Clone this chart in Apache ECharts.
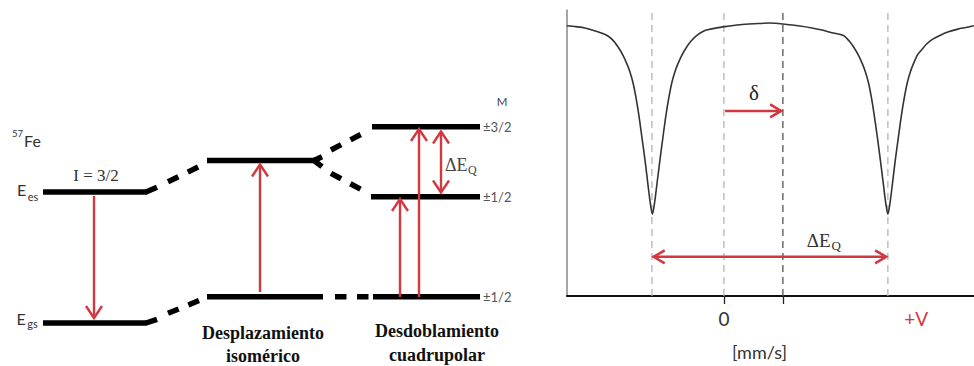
<!DOCTYPE html>
<html><head><meta charset="utf-8">
<script src="https://cdn.jsdelivr.net/npm/echarts@6/dist/echarts.min.js"></script>
<style>html,body{margin:0;padding:0;background:#fff}#c{width:974px;height:366px}</style>
</head><body><div id="c"></div>
<script>
// ===== Left panel: 57Fe nuclear energy levels (x = diagram position, E = relative energy, Egs = 0) =====
const levels = [ // [xStart, xEnd, E]
  [43, 147, 131], [43, 147, 0],
  [207, 315, 162.5], [207, 323, 26.3],
  [372, 480, 196.3], [371, 480, 126.3], [373, 480, 26.3]
];
const solidLinks = [ // [x0, E0, x1, E1]
  [146, 131, 157, 135.7], [146, 0, 157, 3.7],
  [314, 162.5, 322, 166.3], [314, 162.5, 322, 156.3]
];
const dashedLinks = [ // [x0, E0, x1, E1]
  [168, 141.3, 201, 157.3], [168, 9.7, 202, 23.7],
  [331, 173, 363, 189.7], [331, 149.7, 362, 133], [335, 26.3, 370, 26.3]
];
const transitions = [ // [x0, E0, x1, E1, headAtStart, headAtEnd]
  [94, 127, 94, 5, 0, 1], [260, 31, 260, 158.5, 0, 1],
  [400, 26, 400, 124, 0, 1], [419, 26, 419, 194, 0, 1],
  [441, 191.5, 441, 130.5, 1, 1]
];
const leftTexts = [ // [x, E, text, style]
  [17.5, 189.5, '57', 'sup'], [32.5, 182.5, 'Fe', 'sans'],
  [21.5, 134, 'E', 'sans'], [33, 127, 'es', 'sub'],
  [21, 5, 'E', 'sans'], [32.5, 0, 'gs', 'sub'],
  [96, 148, 'I = 3/2', 'serif'],
  [502, 222, 'M', 'tiny'],
  [483, 196.3, '±3/2', 'mlab'], [483, 126.3, '±1/2', 'mlab'], [483, 26.3, '±1/2', 'mlab'],
  [445, 158, 'ΔE', 'serifL'], [468, 153, 'Q', 'serifSub'],
  [263, -10, 'Desplazamiento', 'bold'], [263, -33, 'isomérico', 'bold'],
  [437, -8, 'Desdoblamiento', 'bold'], [437, -32, 'cuadrupolar', 'bold']
];

// ===== Right panel: Mössbauer spectrum (velocity in mm/s, transmission in %) =====
const velocity = [
  -1.331, -1.254, -1.178, -1.119, -1.051, -0.983,
  -0.932, -0.890, -0.856, -0.822, -0.797, -0.771, -0.746, -0.720, -0.695, -0.669, -0.644, -0.623,
  -0.606,
  -0.589, -0.568, -0.542, -0.517, -0.492, -0.466, -0.441, -0.415, -0.390, -0.356, -0.322, -0.280, -0.229,
  -0.161, -0.093, 0.008, 0.136, 0.263, 0.390, 0.534, 0.644, 0.746, 0.831, 0.915,
  1.013, 1.064, 1.106, 1.140, 1.174, 1.199, 1.225, 1.250, 1.275, 1.301, 1.326, 1.352, 1.373,
  1.390,
  1.407, 1.428, 1.453, 1.479, 1.504, 1.530, 1.555, 1.581, 1.606, 1.640, 1.674, 1.716, 1.767,
  1.831, 1.898, 1.983, 2.051, 2.119];
const transmission = [
  94.52, 94.18, 93.73, 92.98, 92.12, 90.92,
  89.04, 86.64, 84.25, 81.16, 78.42, 74.66, 69.52, 63.01, 55.48, 47.60, 39.04, 32.19,
  28.60,
  32.19, 39.04, 47.60, 55.48, 63.01, 69.52, 74.66, 78.42, 81.16, 84.25, 86.64, 89.04, 91.10,
  92.81, 93.49, 94.18, 94.86, 95.21, 95.45, 94.93, 94.42, 93.73, 92.98, 92.05,
  91.10, 89.04, 86.64, 84.25, 81.16, 78.42, 74.66, 69.52, 63.01, 55.48, 47.60, 39.04, 32.19,
  28.60,
  32.19, 39.04, 47.60, 55.48, 63.01, 69.52, 74.66, 78.42, 81.16, 84.25, 85.96, 88.01, 89.73,
  91.10, 92.29, 93.32, 93.90, 94.52];
const guideLines = [-0.61, 0, 0.5, 1.39];          // dashed verticals
const guideColors = ['#b4b4b4', '#b4b4b4', '#555', '#b4b4b4'];
const tickValues = [0, 0.5];
const tickLabelValues = [0, 1.63];
const tickLabels = ['0', '+V'];
const spectrumArrows = [ // [v0, T0, v1, T1, headAtStart, headAtEnd]
  [0.01, 64.7, 0.485, 64.7, 0, 1], [-0.595, 13.7, 1.375, 13.7, 1, 1]
];
const rightTexts = [
  [0.254, 71.1, 'δ', 'delta'], [0.703, 19.3, 'ΔE', 'serifL2'], [0.912, 17.6, 'Q', 'serifSub2']
];

const SANS = 'Lato, "Open Sans", sans-serif';
const SERIF = '"Liberation Serif", "DejaVu Serif", serif';
const RED = '#d2383f';
const TS = {
  sup: {fontSize: 9.5, fontFamily: SANS, fill: '#333'},
  sans: {fontSize: 16, fontFamily: SANS, fill: '#333'},
  sub: {fontSize: 11, fontFamily: SANS, fill: '#333'},
  serif: {fontSize: 17, fontFamily: SERIF, fill: '#333'},
  tiny: {fontSize: 11.5, fontFamily: SANS, fill: '#444'},
  mlab: {fontSize: 13, fontFamily: SANS, fill: '#555', align: 'left'},
  serifL: {fontSize: 18, fontFamily: SERIF, fill: '#444', align: 'left'},
  serifSub: {fontSize: 12, fontFamily: SERIF, fill: '#444', align: 'left'},
  bold: {fontSize: 18, fontFamily: SERIF, fontWeight: 'bold', fill: '#111'},
  delta: {fontSize: 21, fontFamily: SERIF, fill: '#222'},
  serifL2: {fontSize: 19, fontFamily: SERIF, fill: '#333', align: 'left'},
  serifSub2: {fontSize: 13, fontFamily: SERIF, fill: '#333', align: 'left'}
};

function seg(a, b, stroke, w, dash) {
  return {type: 'line', shape: {x1: a[0], y1: a[1], x2: b[0], y2: b[1]},
    style: {stroke: stroke, lineWidth: w, lineDash: dash || null, fill: null}};
}
function segRenderer(stroke, w, dash) {
  return function (params, api) {
    return seg(api.coord([api.value(0), api.value(1)]), api.coord([api.value(2), api.value(3)]), stroke, w, dash);
  };
}
function levelRenderer(params, api) {
  return seg(api.coord([api.value(0), api.value(2)]), api.coord([api.value(1), api.value(2)]), '#000', 5.5);
}
function arrowRenderer(hw, hl, lw) {
  return function (params, api) {
    const p0 = api.coord([api.value(0), api.value(1)]);
    const p1 = api.coord([api.value(2), api.value(3)]);
    const head = function (tip, from) {
      const dx = tip[0] - from[0], dy = tip[1] - from[1], L = Math.hypot(dx, dy);
      const ux = dx / L, uy = dy / L;
      return {type: 'polyline', shape: {points: [
        [tip[0] - ux * hl - uy * hw, tip[1] - uy * hl + ux * hw], [tip[0], tip[1]],
        [tip[0] - ux * hl + uy * hw, tip[1] - uy * hl - ux * hw]]},
        style: {stroke: RED, lineWidth: lw, fill: null, lineJoin: 'miter'}};
    };
    const ch = [seg(p0, p1, RED, lw)];
    if (api.value(5)) ch.push(head(p1, p0));
    if (api.value(4)) ch.push(head(p0, p1));
    return {type: 'group', children: ch};
  };
}
function textRenderer(list) {
  return function (params, api) {
    const p = api.coord([api.value(0), api.value(1)]);
    const t = list[params.dataIndex];
    return {type: 'text', x: p[0], y: p[1],
      style: Object.assign({text: t[2], align: 'center', verticalAlign: 'middle'}, TS[t[3]])};
  };
}
function guideRenderer(params, api) {
  const x = api.value(0);
  return seg(api.coord([x, 0]), api.coord([x, 99]), guideColors[params.dataIndex], 1.3, [7, 5]);
}

const chart = echarts.init(document.getElementById('c'), null, {renderer: 'svg'});
const base = {type: 'custom', silent: true, clip: false};
chart.setOption({
  animation: false,
  backgroundColor: '#fff',
  grid: [
    {left: 0, top: 0, width: 540, height: 366},
    {left: 567, top: 10, width: 407, height: 292}
  ],
  xAxis: [
    {gridIndex: 0, type: 'value', min: 0, max: 540, show: false},
    {gridIndex: 1, type: 'value', min: -1.33, max: 2.12,
      axisLine: {show: true, onZero: false, lineStyle: {color: '#111', width: 2}},
      axisTick: {show: true, customValues: tickValues, length: 8, lineStyle: {color: '#222', width: 1.3}},
      axisLabel: {show: true, customValues: tickLabelValues, margin: 13,
        formatter: function (v) { return v === 0 ? tickLabels[0] : '{r|' + tickLabels[1] + '}'; },
        fontSize: 19, fontFamily: SANS, color: '#333', rich: {r: {color: RED, fontSize: 19, fontFamily: SANS}}},
      splitLine: {show: false},
      name: '[mm/s]', nameLocation: 'middle', nameGap: 47,
      nameTextStyle: {fontSize: 18, fontFamily: SANS, color: '#333', padding: [0, 22, 0, 0]}}
  ],
  yAxis: [
    {gridIndex: 0, type: 'value', min: -43, max: 323, show: false},
    {gridIndex: 1, type: 'value', min: 0, max: 100,
      axisLine: {show: true, onZero: false, lineStyle: {color: '#888', width: 1.5}},
      axisTick: {show: false}, axisLabel: {show: false}, splitLine: {show: false}}
  ],
  series: [
    Object.assign({}, base, {xAxisIndex: 0, yAxisIndex: 0, data: levels, renderItem: levelRenderer}),
    Object.assign({}, base, {xAxisIndex: 0, yAxisIndex: 0, data: solidLinks, renderItem: segRenderer('#000', 5.5)}),
    Object.assign({}, base, {xAxisIndex: 0, yAxisIndex: 0, data: dashedLinks, renderItem: segRenderer('#000', 5.5, [11.5, 10.5])}),
    Object.assign({}, base, {xAxisIndex: 0, yAxisIndex: 0, data: transitions, renderItem: arrowRenderer(8, 12, 2.4)}),
    Object.assign({}, base, {xAxisIndex: 0, yAxisIndex: 0, data: leftTexts.map(function (t) { return [t[0], t[1]]; }), renderItem: textRenderer(leftTexts)}),
    Object.assign({}, base, {xAxisIndex: 1, yAxisIndex: 1, data: guideLines.map(function (v) { return [v]; }), renderItem: guideRenderer, z: 1}),
    {type: 'line', xAxisIndex: 1, yAxisIndex: 1, silent: true, symbol: 'none', smooth: 0.3,
      data: velocity.map(function (v, i) { return [v, transmission[i]]; }),
      lineStyle: {color: '#333', width: 1.6}, z: 3},
    Object.assign({}, base, {xAxisIndex: 1, yAxisIndex: 1, data: spectrumArrows, renderItem: arrowRenderer(6.5, 11, 2.6), z: 4}),
    Object.assign({}, base, {xAxisIndex: 1, yAxisIndex: 1, data: rightTexts.map(function (t) { return [t[0], t[1]]; }), renderItem: textRenderer(rightTexts), z: 4})
  ]
});
</script>
</body></html>
